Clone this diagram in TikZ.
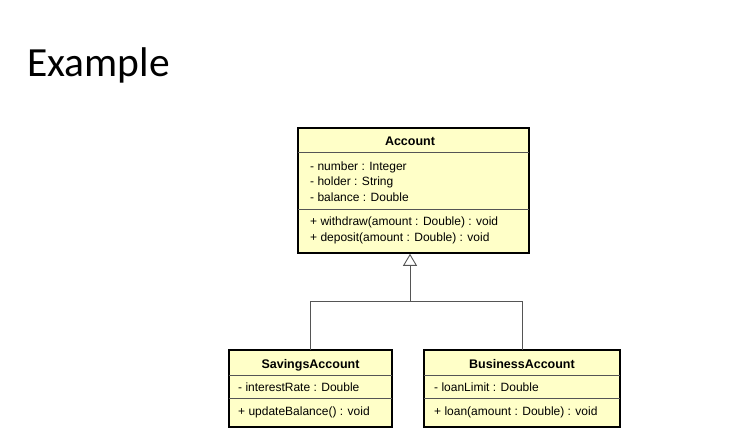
\documentclass[tikz,border=0pt]{standalone}
\usepackage{fontspec}
\setmainfont{Liberation Sans}
\newfontfamily\titlefont{Carlito}
\usetikzlibrary{arrows.meta}
\definecolor{umlfill}{HTML}{FFFFC8}
\definecolor{umlline}{HTML}{555555}
\tikzset{
  x=1pt, y=-1pt,
  classbox/.style={draw=black, line width=1.6pt, fill=umlfill, inner sep=0pt},
  divider/.style={draw=umlline, line width=0.8pt},
  cname/.style={font=\fontsize{12.5}{14}\selectfont\bfseries, inner sep=0pt, anchor=base},
  member/.style={font=\fontsize{12}{14}\selectfont, inner sep=0pt, anchor=base west},
  conn/.style={draw=umlline, line width=0.9pt},
  gen/.style={conn, -{Triangle[open, width=14pt, length=12pt, line width=0.9pt]}}
}
\begin{document}
\begin{tikzpicture}
\useasboundingbox (0,0) rectangle (743,435);
\node[anchor=base west, inner sep=0pt, font=\titlefont\fontsize{41.5}{46}\selectfont] (title) at (27,77) {Example};

% Account
\path[classbox] (298,128) rectangle (529,253);
\node[minimum width=231pt, minimum height=125pt, inner sep=0pt] (acc) at (413.5,190.5) {};
\draw[divider] (298,152) -- (529,152);
\draw[divider] (298,209) -- (529,209);
\node[cname] (accn) at (410,146) {Account};
\node[member] (a1) at (310,170.5) {- number : Integer};
\node[member] (a2) at (310,186) {- holder : String};
\node[member] (a3) at (310,202) {- balance : Double};
\node[member] (a4) at (310,226) {+ withdraw(amount : Double) : void};
\node[member] (a5) at (310,241.7) {+ deposit(amount : Double) : void};

% SavingsAccount
\path[classbox] (229,350) rectangle (392,427);
\node[minimum width=163pt, minimum height=77pt, inner sep=0pt] (sav) at (310.5,388.5) {};
\draw[divider] (229,375) -- (392,375);
\draw[divider] (229,398) -- (392,398);
\node[cname] (savn) at (310.5,368) {SavingsAccount};
\node[member] (s1) at (238,391) {- interestRate : Double};
\node[member] (s2) at (238,415) {+ updateBalance() : void};

% BusinessAccount
\path[classbox] (424,350) rectangle (620,427);
\node[minimum width=196pt, minimum height=77pt, inner sep=0pt] (bus) at (522,388.5) {};
\draw[divider] (424,375) -- (620,375);
\draw[divider] (424,398) -- (620,398);
\node[cname] (busn) at (522,368) {BusinessAccount};
\node[member] (b1) at (434,391) {- loanLimit : Double};
\node[member] (b2) at (434,415) {+ loan(amount : Double) : void};

% generalization
\coordinate (j) at (410,301);
\coordinate (tip) at (410,253.8);
\draw[conn] (sav.north) |- (j);
\draw[conn] (bus.north) |- (j);
\draw[gen] (j) -- (tip);
\end{tikzpicture}
\end{document}
